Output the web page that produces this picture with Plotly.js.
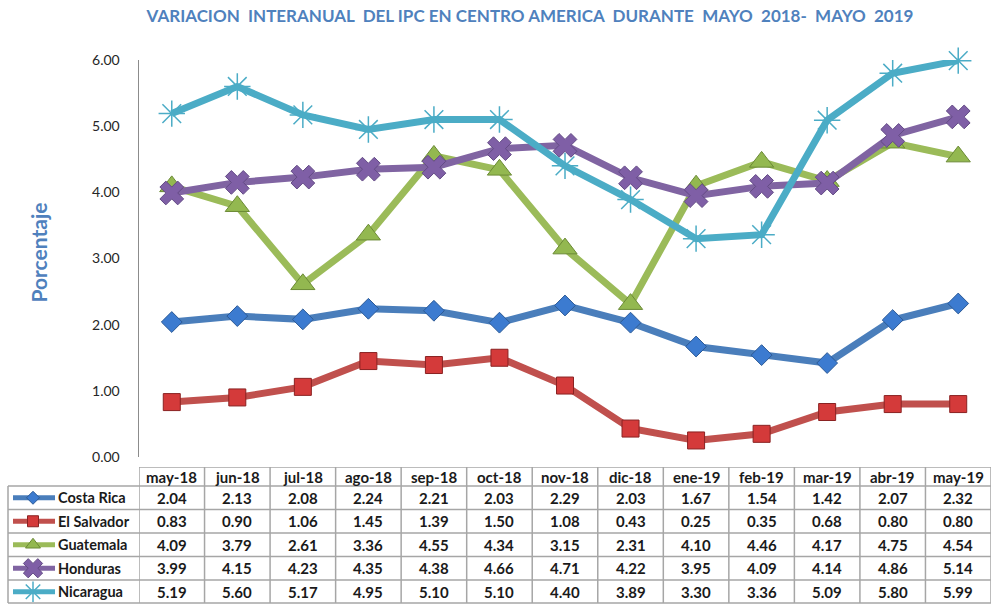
<!DOCTYPE html>
<html>
<head>
<meta charset="utf-8">
<script src="https://cdn.plot.ly/plotly-3.0.1.min.js"></script>
<style>html,body{margin:0;padding:0;background:#fff;}#chart{width:1001px;height:604px;}</style>
</head>
<body>
<div id="chart"></div>
<script>
const months = ['may-18','jun-18','jul-18','ago-18','sep-18','oct-18','nov-18','dic-18','ene-19','feb-19','mar-19','abr-19','may-19'];
const costaRica  = [2.04, 2.13, 2.08, 2.24, 2.21, 2.03, 2.29, 2.03, 1.67, 1.54, 1.42, 2.07, 2.32];
const elSalvador = [0.83, 0.90, 1.06, 1.45, 1.39, 1.50, 1.08, 0.43, 0.25, 0.35, 0.68, 0.80, 0.80];
const guatemala  = [4.09, 3.79, 2.61, 3.36, 4.55, 4.34, 3.15, 2.31, 4.10, 4.46, 4.17, 4.75, 4.54];
const honduras   = [3.99, 4.15, 4.23, 4.35, 4.38, 4.66, 4.71, 4.22, 3.95, 4.09, 4.14, 4.86, 5.14];
const nicaragua  = [5.19, 5.60, 5.17, 4.95, 5.10, 5.10, 4.40, 3.89, 3.30, 3.36, 5.09, 5.80, 5.99];
const countries  = ['Costa Rica','El Salvador','Guatemala','Honduras','Nicaragua'];
const yTicks = [0, 1, 2, 3, 4, 5, 6];

const styles = [
  {line:'#4a7ebb', fill:'#3c7bd0', edge:'#2c5a96', symbol:'diamond', size:16, ksize:10, lw:1},
  {line:'#c0504d', fill:'#d43a3a', edge:'#8a2222', symbol:'square', size:17, ksize:11, lw:1},
  {line:'#9bbb59', fill:'#93b850', edge:'#6b8a35', symbol:'triangle-up', size:21, ksize:13, lw:1},
  {line:'#8064a2', fill:'#7f5fa6', edge:'#634a85', symbol:'x', size:21, ksize:17, lw:1},
  {line:'#4bacc6', fill:'#4bacc6', edge:'#4bacc6', symbol:'asterisk-open', size:22, ksize:17, lw:1.5}
];
const seriesData = [costaRica, elSalvador, guatemala, honduras, nicaragua];

const FONT = 'Lato, "Open Sans", sans-serif';
const W = 1001, H = 604, ML = 0, MR = 10, MT = 60, MB = 0;
const PW = W - ML - MR, PH = H - MT - MB;
const plotLeft = 139, plotBottom = 457, tableTop = 467;
const headerTop = 137, headerBottom = 118, rowH = 23.5;
const rowCenter = i => headerBottom - rowH * (i + 0.5);

const traces = [];
seriesData.forEach((vals, k) => {
  const s = styles[k];
  traces.push({
    type:'scatter', mode:'lines+markers', name: countries[k],
    x: months, y: vals, xaxis:'x', yaxis:'y', cliponaxis:false,
    line:{color:s.line, width:7},
    marker:{symbol:s.symbol, size:s.size, color:s.fill, line:{color:s.edge, width:s.lw}},
    hoverinfo:'x+y+name'
  });
});
seriesData.forEach((vals, k) => {
  const s = styles[k];
  const yc = rowCenter(k);
  traces.push({type:'scatter', mode:'lines', x:[13,55], y:[yc,yc], xaxis:'x2', yaxis:'y2',
    line:{color:s.line, width:5}, hoverinfo:'skip', cliponaxis:false});
  traces.push({type:'scatter', mode:'markers', x:[33], y:[yc], xaxis:'x2', yaxis:'y2', cliponaxis:false,
    marker:{symbol:s.symbol, size:s.ksize, color:s.fill, line:{color:s.edge, width:s.lw}}, hoverinfo:'skip'});
});

const annotations = [];
const shapes = [];
const gridColor = '#a6a6a6';
months.forEach(m => {
  annotations.push({xref:'x', yref:'y2', x:m, y:(headerTop+headerBottom)/2, text:'<b>'+m+'</b>',
    showarrow:false, font:{family:FONT, size:15, color:'#1a1a1a'}});
});
seriesData.forEach((vals, k) => {
  annotations.push({xref:'x2', yref:'y2', x:56, y:rowCenter(k), xanchor:'left', text:'<b>'+countries[k]+'</b>',
    showarrow:false, font:{family:FONT, size:14.5, color:'#1a1a1a'}});
  vals.forEach((v, i) => {
    annotations.push({xref:'x', yref:'y2', x:months[i], y:rowCenter(k), text:'<b>'+v.toFixed(2)+'</b>',
      showarrow:false, font:{family:FONT, size:15, color:'#1a1a1a'}});
  });
});
for (let i = 0; i <= months.length; i++) {
  shapes.push({type:'line', xref:'x', yref:'y2', x0:i-0.5, x1:i-0.5, y0:1, y1:headerTop, line:{color:gridColor, width:1.5}});
}
shapes.push({type:'line', xref:'x2', yref:'y2', x0:8, x1:8, y0:1, y1:headerBottom, line:{color:gridColor, width:1.5}});
shapes.push({type:'line', xref:'x', yref:'y2', x0:-0.5, x1:months.length-0.5, y0:headerTop, y1:headerTop, line:{color:gridColor, width:1.5}});
for (let r = 0; r <= countries.length; r++) {
  const y = headerBottom - r*rowH;
  shapes.push({type:'line', xref:'paper', yref:'y2', x0:8/PW, x1:1, y0:Math.max(y,1), y1:Math.max(y,1), line:{color:gridColor, width:1.5}});
}
annotations.push({xref:'paper', yref:'paper', x:24/PW, y:(H-MB-253)/PH, text:'<b>Porcentaje</b>', textangle:-90,
  showarrow:false, font:{family:FONT, size:21, color:'#4f81bd'}});

const sp = '\u00a0';
const titleText = '<b>VARIACION'+sp+sp+'INTERANUAL'+sp+sp+'DEL IPC EN CENTRO AMERICA'+sp+sp+'DURANTE'+sp+sp+'MAYO'+sp+sp+'2018-'+sp+sp+'MAYO'+sp+sp+'2019</b>';

const layout = {
  width: W, height: H,
  margin:{l:ML, r:MR, t:MT, b:MB},
  paper_bgcolor:'#ffffff', plot_bgcolor:'rgba(0,0,0,0)',
  showlegend:false,
  title:{text:titleText, x:530/W, xref:'container', xanchor:'center', y:1-16/H, yref:'container', yanchor:'middle',
    font:{family:FONT, size:17, color:'#4f81bd'}},
  xaxis:{type:'category', categoryarray:months, range:[-0.5, months.length-0.5],
    domain:[(plotLeft-ML)/PW, 1], anchor:'y', showticklabels:false, showgrid:false, zeroline:false, showline:false, ticks:''},
  yaxis:{range:[0,6], tickvals:yTicks, tickformat:'.2f', domain:[(H-MB-plotBottom)/PH, 1], anchor:'x',
    showgrid:false, zeroline:false, showline:true, linecolor:'#8c8c8c', linewidth:1.5, ticks:'',
    ticklabelstandoff:15, tickfont:{family:FONT, size:14, color:'#262626'}},
  xaxis2:{domain:[0, (plotLeft-ML)/PW], range:[0, plotLeft], anchor:'y2', visible:false, fixedrange:true},
  yaxis2:{domain:[0, (H-MB-tableTop)/PH], range:[0, H-MB-tableTop], anchor:'x', visible:false, fixedrange:true},
  annotations: annotations,
  shapes: shapes
};

Plotly.newPlot('chart', traces, layout, {displayModeBar:false, staticPlot:true});
</script>
</body>
</html>
